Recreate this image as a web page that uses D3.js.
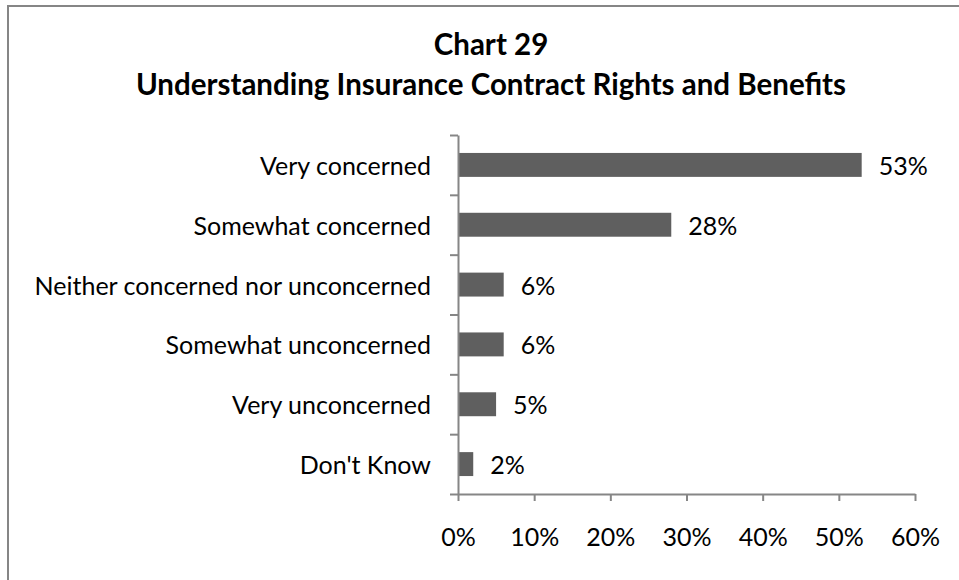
<!DOCTYPE html>
<html>
<head>
<meta charset="utf-8">
<script src="https://cdn.jsdelivr.net/npm/d3@7"></script>
<style>
  html, body { margin: 0; padding: 0; background: #fff; }
  svg { display: block; }
  text { font-family: Lato, "Open Sans", sans-serif; fill: #000; }
</style>
</head>
<body>
<svg id="chart" width="959" height="580"></svg>
<script>
// Survey responses
const categories = [
  "Very concerned",
  "Somewhat concerned",
  "Neither concerned nor unconcerned",
  "Somewhat unconcerned",
  "Very unconcerned",
  "Don't Know"
];
const values = [0.53, 0.28, 0.06, 0.06, 0.05, 0.02];
const xTickValues = [0, 0.1, 0.2, 0.3, 0.4, 0.5, 0.6];
const titleLines = ["Chart 29", "Understanding Insurance Contract Rights and Benefits"];

const svg = d3.select("#chart");
const axisColor = "#868686";
const barColor = "#5f5f5f";
const labelSize = 25;

// Chart frame
svg.append("rect")
  .attr("x", 8).attr("y", 6)
  .attr("width", 970).attr("height", 600)
  .attr("fill", "#fff")
  .attr("stroke", axisColor).attr("stroke-width", 2);

// Title
svg.append("g").selectAll("text")
  .data(titleLines)
  .join("text")
  .attr("x", 491)
  .attr("y", (d, i) => 55 + i * 40)
  .attr("text-anchor", "middle")
  .attr("font-size", 29.5)
  .attr("font-weight", "bold")
  .text(d => d);

// Scales
const plot = { left: 458, right: 915, top: 135, bottom: 494 };
const x = d3.scaleLinear().domain([0, 0.6]).range([plot.left, plot.right]);
const y = d3.scaleBand()
  .domain(categories)
  .range([plot.top, plot.bottom])
  .paddingInner(0.6)
  .paddingOuter(0.3);
const slot = d3.scaleLinear().domain([0, categories.length]).range([plot.top, plot.bottom]);

// Bars
svg.append("g").selectAll("rect")
  .data(categories)
  .join("rect")
  .attr("x", x(0))
  .attr("y", d => y(d))
  .attr("width", (d, i) => x(values[i]) - x(0))
  .attr("height", y.bandwidth())
  .attr("fill", barColor);

// Value labels
svg.append("g").selectAll("text")
  .data(categories)
  .join("text")
  .attr("x", (d, i) => x(values[i]) + 17)
  .attr("y", d => y(d) + y.bandwidth() / 2 + 10)
  .attr("font-size", labelSize)
  .text((d, i) => d3.format(".0%")(values[i]));

// Category labels
svg.append("g").selectAll("text")
  .data(categories)
  .join("text")
  .attr("x", 431)
  .attr("y", d => y(d) + y.bandwidth() / 2 + 10)
  .attr("text-anchor", "end")
  .attr("font-size", labelSize)
  .text(d => d);

// Vertical axis with ticks between categories
const yAxis = svg.append("g")
  .attr("transform", `translate(${plot.left},0)`)
  .call(d3.axisLeft(slot).tickValues(d3.range(categories.length + 1)).tickSize(8).tickSizeOuter(0).tickFormat(""));
yAxis.selectAll("line, path").attr("stroke", axisColor).attr("stroke-width", 2);

// Horizontal axis
const xAxis = svg.append("g")
  .attr("transform", `translate(0,${plot.bottom})`)
  .call(d3.axisBottom(x).tickValues(xTickValues).tickSize(7).tickSizeOuter(0).tickFormat(d3.format(".0%")));
xAxis.select(".domain").attr("stroke", axisColor).attr("stroke-width", 2);
xAxis.selectAll(".tick line").attr("stroke", axisColor).attr("stroke-width", 2);
xAxis.selectAll(".tick text")
  .attr("y", 52).attr("dy", 0)
  .attr("font-size", labelSize)
  .attr("font-family", "Lato, 'Open Sans', sans-serif")
  .attr("fill", "#000");
</script>
</body>
</html>
